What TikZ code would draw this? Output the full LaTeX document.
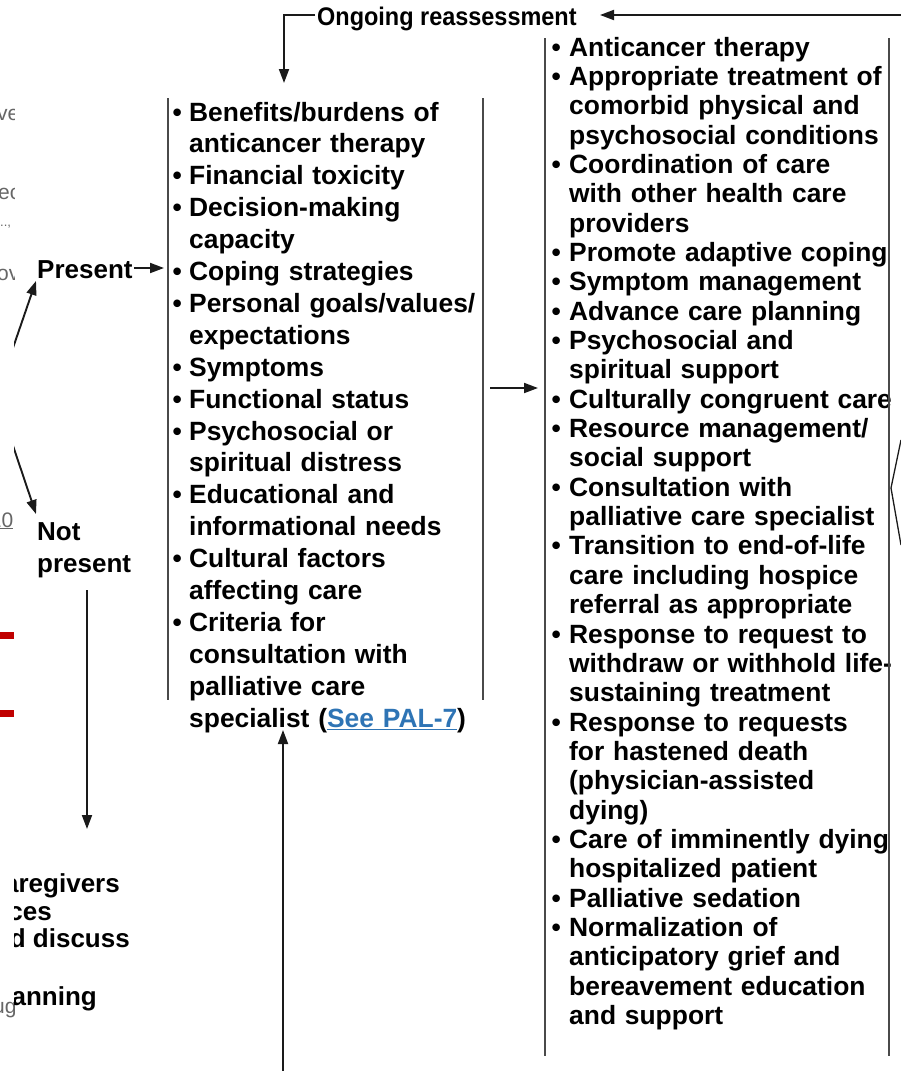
\documentclass[tikz,border=0pt]{standalone}
\usepackage{fontspec}
\setmainfont{Liberation Sans}
\newfontfamily\narrowfont{Liberation Sans}[FakeStretch=0.92]
\usetikzlibrary{arrows.meta}
\definecolor{boxgray}{HTML}{4A4A4A}
\definecolor{arrgray}{HTML}{1A1A1A}
\definecolor{linkblue}{HTML}{2E74B5}
\definecolor{fraggray}{HTML}{666666}
\definecolor{barred}{HTML}{C00000}
\newlength{\bulw}
\newcommand{\bul}{\makebox[\bulw][l]{•}}
\newcommand{\ind}{\hspace*{\bulw}}
\tikzset{
  boxline/.style={draw=boxgray, line width=2.4pt},
  arr/.style={draw=arrgray, line width=1.9pt, -{Triangle[length=14pt,width=10pt]}},
  thinline/.style={draw=arrgray, line width=1.3pt},
  midlist/.style={anchor=base west, inner sep=0pt, text width=340pt, align=left,
    font=\bfseries\fontsize{26.4}{31.9}\selectfont},
  rightlist/.style={anchor=base west, inner sep=0pt, text width=400pt, align=left,
    font=\bfseries\fontsize{26.4}{29.35}\selectfont},
  lbl/.style={anchor=base west, inner sep=0pt, font=\bfseries\fontsize{26}{32}\selectfont},
  frag/.style={inner sep=0pt, text=fraggray, font=\fontsize{21}{24}\selectfont},
  cutbold/.style={anchor=base east, inner sep=0pt, font=\bfseries\fontsize{26}{28}\selectfont},
  redbar/.style={fill=barred, draw=none}
}
\begin{document}
\begin{tikzpicture}[x=1pt,y=-1pt]
\useasboundingbox (0,0) rectangle (901,1071);

% ---- left strip (another layer, clipped) ----
\begin{scope}
\clip (0,0) rectangle (14,1071);
\node[frag, anchor=base west] (g1) at (-3,120) {ve};
\node[frag, anchor=base west] (g2) at (-2,199) {ec};
\node[frag, anchor=base west, font=\fontsize{13}{14}\selectfont] (g3) at (0,226) {..,};
\node[frag, anchor=base west] (g4) at (-3,280) {ov};
\node[frag, anchor=base east] (g5) at (13.5,527) {\underline{10}};
\node[frag, anchor=base west] (g6) at (-7,1013) {ug};
\fill[redbar] (0,632) rectangle (14,638.5);
\fill[redbar] (0,710) rectangle (14,716.5);
\end{scope}

% ---- main layer ----
\begin{scope}
\clip (14,0) rectangle (901,1071);

% top reassessment loop
\node[anchor=base west, inner sep=0pt, font=\narrowfont\bfseries\fontsize{25.5}{28}\selectfont] (ong) at (317,25) {Ongoing reassessment};
\coordinate (topR) at (901,15);
\coordinate (ongTip) at (600,15);
\coordinate (ongL) at (315,15);
\coordinate (midIn) at (284,83);
\draw[arr] (topR) -- (ongTip);
\draw[arr] (ongL) -| (midIn);

% middle list
\node[midlist] (mid) at (172.5,121) {\setlength{\bulw}{16.5pt}%
\bul Benefits/burdens of\\
\ind anticancer therapy\\
\bul Financial toxicity\\
\bul Decision-making\\
\ind capacity\\
\bul Coping strategies\\
\bul Personal goals/values/\\
\ind expectations\\
\bul Symptoms\\
\bul Functional status\\
\bul Psychosocial or\\
\ind spiritual distress\\
\bul Educational and\\
\ind informational needs\\
\bul Cultural factors\\
\ind affecting care\\
\bul Criteria for\\
\ind consultation with\\
\ind palliative care\\
\ind specialist ({\color{linkblue}\underline{See PAL-7}})};
\draw[boxline] (168,98) -- (168,700);
\draw[boxline] (483,98) -- (483,700);

% right list
\node[rightlist] (rgt) at (551.5,56) {\setlength{\bulw}{17.5pt}%
\bul Anticancer therapy\\
\bul Appropriate treatment of\\
\ind comorbid physical and\\
\ind psychosocial conditions\\
\bul Coordination of care\\
\ind with other health care\\
\ind providers\\
\bul Promote adaptive coping\\
\bul Symptom management\\
\bul Advance care planning\\
\bul Psychosocial and\\
\ind spiritual support\\
\bul Culturally congruent care\\
\bul Resource management/\\
\ind social support\\
\bul Consultation with\\
\ind palliative care specialist\\
\bul Transition to end-of-life\\
\ind care including hospice\\
\ind referral as appropriate\\
\bul Response to request to\\
\ind withdraw or withhold life-\\
\ind sustaining treatment\\
\bul Response to requests\\
\ind for hastened death\\
\ind (physician-assisted\\
\ind dying)\\
\bul Care of imminently dying\\
\ind hospitalized patient\\
\bul Palliative sedation\\
\bul Normalization of\\
\ind anticipatory grief and\\
\ind bereavement education\\
\ind and support};
\draw[boxline] (545,38) -- (545,1056);
\draw[boxline] (889,38) -- (889,1056);

% middle -> right
\coordinate (midOut) at (490,388);
\coordinate (rgtIn) at (538,388);
\draw[arr] (midOut) -- (rgtIn);

% bracket at right edge
\coordinate (b1) at (901,440);
\coordinate (b2) at (891,488);
\coordinate (b3) at (901,545);
\draw[thinline] (b1) -- (b2) -- (b3);

% Present / Not present
\node[lbl] (pres) at (37,278) {Present};
\node[lbl, align=left, anchor=base west] (notp) at (37,572) {Not\\present};
\coordinate (presOut) at (134,268);
\coordinate (presIn) at (164,268);
\draw[arr] (presOut) -- (presIn);
\coordinate (d1s) at (4,374);
\coordinate (d1e) at (36,281);
\draw[arr] (d1s) -- (d1e);
\coordinate (d2s) at (5,422);
\coordinate (d2e) at (36,514);
\draw[arr] (d2s) -- (d2e);
\coordinate (npOut) at (87,590);
\coordinate (npIn) at (87,829);
\draw[arr] (npOut) -- (npIn);

% clipped text at lower left
\node[cutbold] (k1) at (120,892) {caregivers};
\node[cutbold] (k2) at (52,920) {preferences};
\node[cutbold] (k3) at (130,947) {and discuss};
\node[cutbold] (k4) at (97,1005) {planning};

% arrow up into middle list
\coordinate (upS) at (283,1071);
\coordinate (upE) at (283,730);
\draw[arr] (upS) -- (upE);
\end{scope}
\end{tikzpicture}
\end{document}
